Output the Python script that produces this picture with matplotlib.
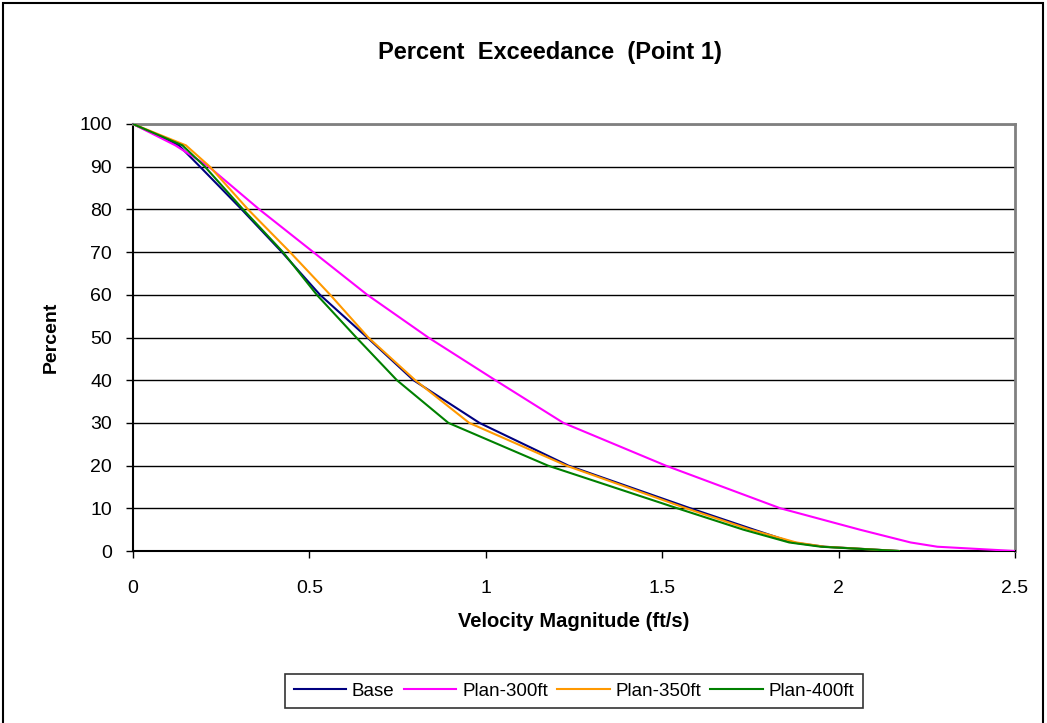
import matplotlib
matplotlib.use("Agg")
import matplotlib.pyplot as plt
from matplotlib.patches import Rectangle

plt.rcParams['font.family'] = ['Liberation Sans', 'DejaVu Sans']

# percent exceedance levels and velocity
percent = [100, 95, 90, 80, 70, 60, 50, 40, 30, 20, 10, 5, 2, 1, 0]
base     = [0, 0.13, 0.19, 0.308, 0.422, 0.53, 0.664, 0.795, 0.982, 1.234, 1.58, 1.76, 1.87, 1.96, 2.17]
plan_300 = [0, 0.12, 0.215, 0.358, 0.511, 0.664, 0.837, 1.027, 1.22, 1.51, 1.835, 2.06, 2.204, 2.28, 2.5]
plan_350 = [0, 0.15, 0.218, 0.326, 0.445, 0.559, 0.667, 0.80, 0.953, 1.228, 1.568, 1.75, 1.88, 1.96, 2.17]
plan_400 = [0, 0.14, 0.204, 0.312, 0.425, 0.521, 0.633, 0.748, 0.894, 1.176, 1.543, 1.73, 1.86, 1.95, 2.17]

series_names = ["Base", "Plan-300ft", "Plan-350ft", "Plan-400ft"]
series_colors = ["#000080", "#FF00FF", "#FF9900", "#008000"]

x_ticks = [0, 0.5, 1, 1.5, 2, 2.5]
x_tick_labels = ["0", "0.5", "1", "1.5", "2", "2.5"]
y_ticks = list(range(0, 101, 10))

fig = plt.figure(figsize=(10.47, 7.23), dpi=100)
ax = fig.add_axes([133/1047, 1 - 551/723, (1015 - 133)/1047, (551 - 124)/723])

for vals, name, col in zip([base, plan_300, plan_350, plan_400], series_names, series_colors):
    ax.plot(vals, percent, color=col, lw=1.5, label=name, zorder=3)

ax.set_xlim(0, 2.5)
ax.set_ylim(0, 100)
ax.set_xticks(x_ticks)
ax.set_xticklabels(x_tick_labels)
ax.set_yticks(y_ticks)
ax.yaxis.grid(True, color="black", lw=1.0)
ax.set_axisbelow(True)
ax.tick_params(which="both", direction="out", length=5, width=1, labelsize=14, color="black")
ax.tick_params(axis="x", pad=16)
ax.tick_params(axis="y", pad=10)

ax.spines["left"].set_color("black")
ax.spines["left"].set_linewidth(1.5)
ax.spines["bottom"].set_color("black")
ax.spines["bottom"].set_linewidth(1.5)
ax.spines["top"].set_color("#808080")
ax.spines["top"].set_linewidth(2)
ax.spines["right"].set_color("#808080")
ax.spines["right"].set_linewidth(2)

ax.set_xlabel("Velocity Magnitude (ft/s)", fontsize=14.5, fontweight="bold", labelpad=11)
ax.set_ylabel("Percent", fontsize=14, fontweight="bold", labelpad=14)

fig.text(550/1047, 1 - 52/723, "Percent  Exceedance  (Point 1)", fontsize=17,
    fontweight="bold", ha="center", va="center")

leg = fig.legend(loc="center", bbox_to_anchor=(574/1047, 1 - 691/723), ncol=4,
    fontsize=13.5, frameon=True, fancybox=False, handlelength=2.8,
    handletextpad=0.3, columnspacing=0.5, borderpad=0.45)
leg.get_frame().set_edgecolor("black")
leg.get_frame().set_linewidth(1.2)

fig.patches.append(Rectangle((3/1047, -0.01), 1040/1047, 1.01 - 3/723, transform=fig.transFigure,
    fill=False, edgecolor="black", lw=1.5))

fig.savefig("out.png", dpi=100)
